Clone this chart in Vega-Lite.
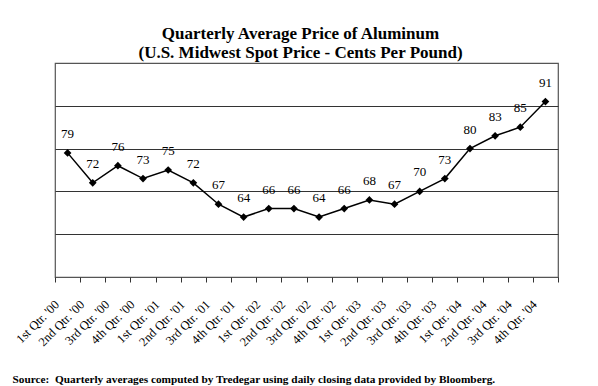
{
  "$schema": "https://vega.github.io/schema/vega-lite/v6.json",
  "width": 503,
  "height": 214,
  "autosize": {"type": "none"},
  "padding": {"left": 55, "top": 63, "right": 40, "bottom": 109},
  "background": "white",
  "config": {
    "font": "Liberation Serif",
    "view": {"stroke": "#555555", "strokeWidth": 1.2}
  },
  "title": {
    "text": ["Quarterly Average Price of Aluminum", "(U.S. Midwest Spot Price - Cents Per Pound)"],
    "font": "Liberation Serif",
    "fontSize": 17,
    "fontWeight": "bold",
    "color": "black",
    "anchor": "middle",
    "baseline": "bottom",
    "lineHeight": 19,
    "offset": -16,
    "dx": -6
  },
  "data": {
    "values": [
      {"q": "1st Qtr. '00", "price": 79},
      {"q": "2nd Qtr. '00", "price": 72},
      {"q": "3rd Qtr. '00", "price": 76},
      {"q": "4th Qtr. '00", "price": 73},
      {"q": "1st Qtr. '01", "price": 75},
      {"q": "2nd Qtr. '01", "price": 72},
      {"q": "3rd Qtr. '01", "price": 67},
      {"q": "4th Qtr. '01", "price": 64},
      {"q": "1st Qtr. '02", "price": 66},
      {"q": "2nd Qtr. '02", "price": 66},
      {"q": "3rd Qtr. '02", "price": 64},
      {"q": "4th Qtr. '02", "price": 66},
      {"q": "1st Qtr. '03", "price": 68},
      {"q": "2nd Qtr. '03", "price": 67},
      {"q": "3rd Qtr. '03", "price": 70},
      {"q": "4th Qtr. '03", "price": 73},
      {"q": "1st Qtr. '04", "price": 80},
      {"q": "2nd Qtr. '04", "price": 83},
      {"q": "3rd Qtr. '04", "price": 85},
      {"q": "4th Qtr. '04", "price": 91}
    ]
  },
  "encoding": {
    "x": {
      "field": "q",
      "type": "nominal",
      "sort": null,
      "scale": {"type": "band", "paddingInner": 0, "paddingOuter": 0},
      "axis": {
        "title": "Source:\u00a0\u00a0Quarterly averages computed by Tredegar using daily closing data provided by Bloomberg.",
        "titleFont": "Liberation Serif",
        "titleFontSize": 11.3,
        "titleFontWeight": "bold",
        "titleColor": "black",
        "titleAnchor": "start",
        "titleAlign": "left",
        "titleBaseline": "alphabetic",
        "titleX": -43,
        "titleY": 105,
        "labelAngle": -45,
        "labelAlign": "right",
        "labelBaseline": "middle",
        "labelFont": "Liberation Serif",
        "labelFontSize": 12.5,
        "labelColor": "black",
        "labelPadding": 20,
        "labelOffset": -11,
        "tickBand": "extent",
        "tickColor": "#333333",
        "tickSize": 5,
        "domain": false,
        "grid": false,
        "labelOverlap": false
      }
    },
    "y": {
      "field": "price",
      "type": "quantitative",
      "scale": {"domain": [50, 100], "nice": false, "zero": false},
      "axis": {
        "values": [60, 70, 80, 90],
        "grid": true,
        "gridColor": "#333333",
        "gridOpacity": 1,
        "gridWidth": 1,
        "labels": false,
        "ticks": false,
        "domain": false,
        "title": null
      }
    }
  },
  "layer": [
    {"mark": {"type": "line", "color": "black", "strokeWidth": 1.5}},
    {"mark": {"type": "point", "shape": "diamond", "filled": true, "color": "black", "size": 60, "opacity": 1}},
    {
      "mark": {"type": "text", "dy": -19, "fontSize": 13, "font": "Liberation Serif", "color": "black", "baseline": "middle"},
      "encoding": {"text": {"field": "price", "type": "quantitative"}}
    }
  ]
}
